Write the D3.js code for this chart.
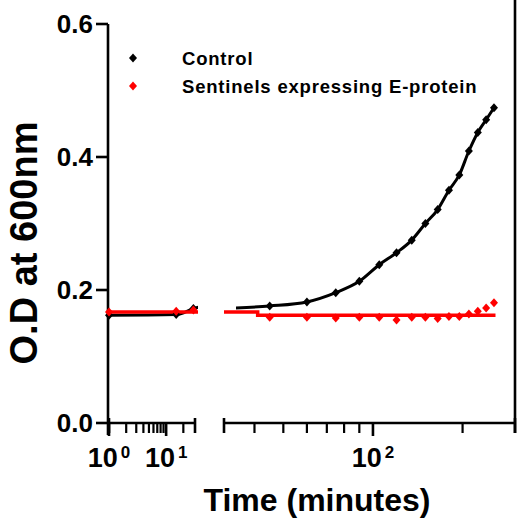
<!DOCTYPE html>
<html>
<head>
<meta charset="utf-8">
<script src="https://cdnjs.cloudflare.com/ajax/libs/d3/7.8.5/d3.min.js"></script>
<style>
  body { margin: 0; background: #fff; }
  text { font-family: "Liberation Sans", Arial, sans-serif; font-weight: bold; fill: #000; }
</style>
</head>
<body>
<svg width="520" height="519"></svg>
<script>
// time points (minutes); the first one is plotted at 1 on the log axis
const times    = [1, 15, 30, 45, 60, 75, 90, 105, 120, 135, 150, 165, 180, 195, 210, 225, 240, 255];
const control  = [0.162, 0.163, 0.172, 0.176, 0.182, 0.196, 0.213, 0.238, 0.256, 0.275, 0.300, 0.321, 0.350, 0.373, 0.409, 0.437, 0.456, 0.474];
const sentinel = [0.167, 0.168, 0.170, 0.159, 0.159, 0.158, 0.159, 0.159, 0.155, 0.159, 0.159, 0.157, 0.160, 0.160, 0.164, 0.168, 0.173, 0.181];

// flat fitted line drawn for the sentinels
const sentinelFitT = [1, 41, 41, 258];
const sentinelFit  = [0.167, 0.167, 0.162, 0.162];

const seriesNames = ['Control', 'Sentinels expressing E-protein'];
const seriesColors = ['#000000', '#ff0000'];

const yTicks = [0, 0.2, 0.4, 0.6];
const leftMajor  = [1, 10];
const leftMinor  = [2, 3, 4, 5, 6, 7, 8, 9, 20, 30];
const rightMajor = [100];
const rightMinor = [40, 50, 60, 70, 80, 90, 200, 300];

const svg = d3.select('svg');

const y = d3.scaleLinear().domain([0, 0.6]).range([423, 24]);
const xLeft  = d3.scaleLog().domain([1, 32]).range([109, 195]);
const xRight = d3.scaleLog().domain([31.6, 300]).range([224, 515]);
const segments = [
  { x: xLeft,  lo: 107, hi: 198, id: 'clipL', from: 1 },
  { x: xRight, lo: 236, hi: 517, id: 'clipR', from: 31.6 }
];

const defs = svg.append('defs');
segments.forEach(s => {
  defs.append('clipPath').attr('id', s.id)
    .append('rect').attr('x', s.lo).attr('y', 0)
    .attr('width', s.hi - s.lo).attr('height', 519);
});

// axes
const axisG = svg.append('g').attr('stroke', '#000').attr('stroke-width', 2.6).attr('fill', 'none');

// y axis line + ticks
axisG.append('line').attr('x1', 108).attr('x2', 108).attr('y1', y(0.6)).attr('y2', 435);
axisG.selectAll('.ytick').data(yTicks).enter().append('line')
  .attr('x1', 96).attr('x2', 108).attr('y1', d => y(d)).attr('y2', d => y(d));

svg.selectAll('.ylab').data(yTicks).enter().append('text')
  .attr('x', 93).attr('y', d => y(d)).attr('dy', '0.36em')
  .attr('text-anchor', 'end').attr('font-size', 26)
  .text(d => d.toFixed(1));

// right frame line
axisG.append('line').attr('x1', 515).attr('x2', 515).attr('y1', 0).attr('y2', 433);

// x axis segments
const xaxis = (x, major, minor) => {
  const [r0, r1] = x.range();
  axisG.append('line').attr('x1', r0 - 1).attr('x2', r1).attr('y1', 423).attr('y2', 423);
  axisG.append('line').attr('x1', r0).attr('x2', r0).attr('y1', 418).attr('y2', 433);
  axisG.append('line').attr('x1', r1).attr('x2', r1).attr('y1', 418).attr('y2', 433);
  axisG.selectAll(null).data(minor.filter(d => x(d) > r0 + 2 && x(d) < r1 - 2)).enter().append('line')
    .attr('stroke-width', 2.2)
    .attr('x1', d => x(d)).attr('x2', d => x(d)).attr('y1', 423).attr('y2', 433);
  axisG.selectAll(null).data(major).enter().append('line')
    .attr('x1', d => x(d)).attr('x2', d => x(d)).attr('y1', 423).attr('y2', 436);
  const lab = svg.selectAll(null).data(major).enter().append('text')
    .attr('x', d => x(d)).attr('y', 467)
    .attr('text-anchor', 'middle').attr('font-size', 27);
  lab.append('tspan').text('10');
  lab.append('tspan').attr('dy', -9).attr('font-size', 17).attr('dx', 3)
    .text(d => Math.round(Math.log10(d)));
};
xaxis(xLeft, leftMajor, leftMinor);
xaxis(xRight, rightMajor, rightMinor);

// axis titles
svg.append('text').attr('x', 317).attr('y', 511)
  .attr('text-anchor', 'middle').attr('font-size', 32)
  .text('Time (minutes)');
svg.append('text')
  .attr('transform', 'translate(37,243) rotate(-90)')
  .attr('text-anchor', 'middle').attr('font-size', 38)
  .text('O.D at 600nm');

// lines, drawn inside each axis segment
const pts = (ts, vs) => ts.map((t, i) => ({ t, v: vs[i] }));
const inSeg = (data, x) => {
  const [d0, d1] = x.domain();
  let i0 = data.findIndex(d => d.t >= d0);
  let i1 = data.length - 1;
  while (i1 > 0 && data[i1].t > d1) i1--;
  return data.slice(Math.max(0, i0 - 1), Math.min(data.length, i1 + 2));
};

const controlPts = pts(times, control);
const sentinelPts = pts(times, sentinel);
const fitPts = pts(sentinelFitT, sentinelFit);

segments.forEach(s => {
  const g = svg.append('g').attr('clip-path', `url(#${s.id})`);
  const lineSmooth = d3.line().x(d => s.x(d.t)).y(d => y(d.v)).curve(d3.curveMonotoneX);
  const lineStraight = d3.line().x(d => s.x(d.t)).y(d => y(d.v));
  g.append('path').datum(inSeg(controlPts, s.x))
    .attr('d', lineSmooth).attr('fill', 'none')
    .attr('stroke', seriesColors[0]).attr('stroke-width', 3);
  const fitSeg = inSeg(fitPts, s.x).map(d => ({ t: Math.max(d.t, s.from), v: d.v }));
  svg.append('path').datum(fitSeg)
    .attr('d', lineStraight).attr('fill', 'none')
    .attr('stroke', seriesColors[1]).attr('stroke-width', 3.5)
    .attr('clip-path', s.id === 'clipR' ? null : `url(#${s.id})`);
});

// markers
const diamond = 'M0,-4.5L4,0L0,4.5L-4,0Z';
const markerX = t => (t <= 32 ? xLeft(t) : xRight(t));
[controlPts, sentinelPts].forEach((data, k) => {
  svg.append('g').selectAll('path').data(data).enter().append('path')
    .attr('d', diamond)
    .attr('transform', d => `translate(${markerX(d.t)},${y(d.v)})`)
    .attr('fill', seriesColors[k]);
});

// legend
const legend = svg.append('g').selectAll('g').data(seriesNames).enter().append('g')
  .attr('transform', (d, i) => `translate(0, ${58 + i * 28})`);
legend.append('path').attr('d', diamond)
  .attr('transform', 'translate(133,0)')
  .attr('fill', (d, i) => seriesColors[i]);
legend.append('text').attr('x', 182).attr('dy', '0.36em')
  .attr('font-size', 18.5).attr('letter-spacing', 0.8)
  .text(d => d);
</script>
</body>
</html>
